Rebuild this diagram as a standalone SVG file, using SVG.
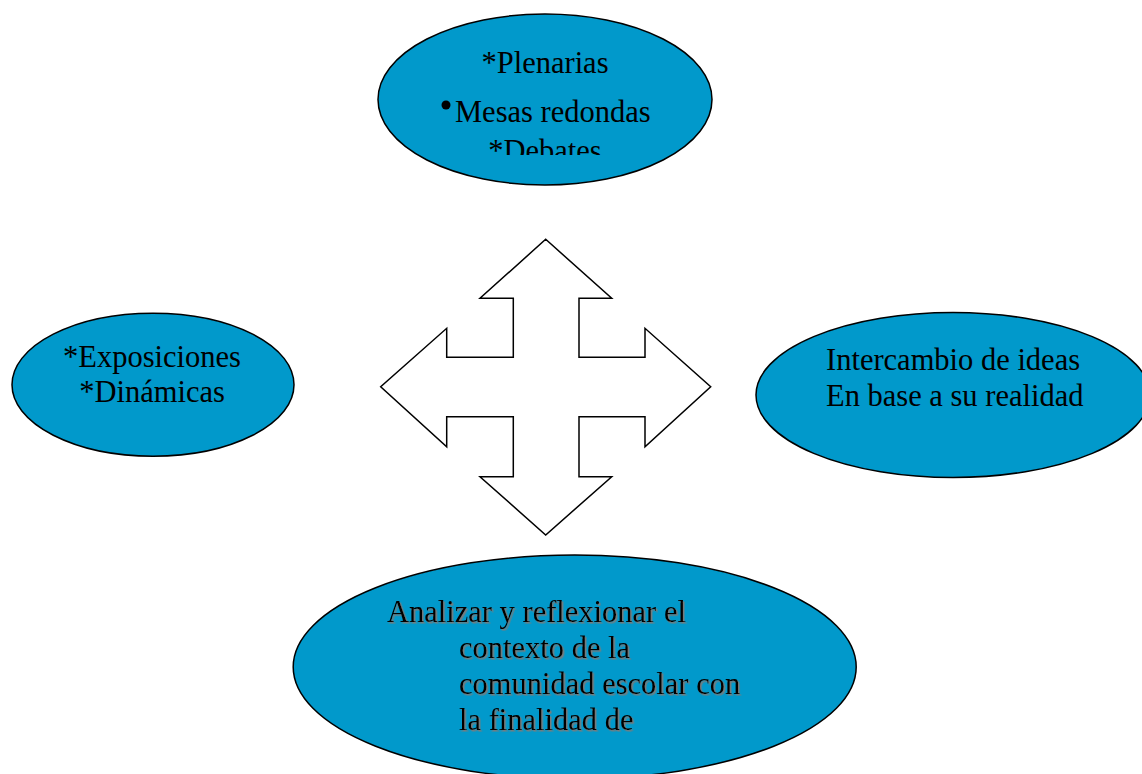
<svg xmlns="http://www.w3.org/2000/svg" width="1142" height="774" viewBox="0 0 1142 774">
<style>
.node{fill:#0199CB;stroke:#000;stroke-width:1.5}
.t{font-family:"Liberation Serif","Times New Roman",serif;font-size:30.5px;fill:#000}
.c{text-anchor:middle}
.arrow{fill:#fff;stroke:#000;stroke-width:1.5;stroke-linejoin:miter}
</style>
<defs>
<clipPath id="topclip"><rect x="370" y="0" width="350" height="155"/></clipPath>
<filter id="shadow" x="-5%" y="-20%" width="110%" height="140%">
<feDropShadow dx="1.5" dy="1.5" stdDeviation="0.4" flood-color="#7a7a7a" flood-opacity="1"/>
</filter>
</defs>
<rect width="1142" height="774" fill="#fff"/>
<g id="connectors">
<polygon class="arrow" points="545.7,239.3 611.7,298.3 579,298.3 579,357.3 645,357.3 645,328.3 710.7,386.7 645,446.7 645,416.7 579,416.7 579,476.7 611.7,476.7 545.7,535 480,476.7 513.3,476.7 513.3,416.7 446.7,416.7 446.7,446.7 380.7,386.7 446.7,328.3 446.7,357.3 513.3,357.3 513.3,298.3 480,298.3"/>
</g>
<g id="node-top">
<ellipse class="node" cx="545" cy="99.5" rx="167" ry="85.5"/>
<text class="t c" x="545" y="73">*Plenarias</text>
<circle cx="446" cy="105" r="4.5" fill="#000"/>
<text class="t" x="455" y="121.5">Mesas redondas</text>
<text class="t c" x="545" y="161" clip-path="url(#topclip)">*Debates</text>
</g>
<g id="node-left">
<ellipse class="node" cx="153" cy="384.7" rx="141" ry="71.5"/>
<text class="t c" x="152" y="367">*Exposiciones</text>
<text class="t c" x="152" y="402">*Dinámicas</text>
</g>
<g id="node-right">
<ellipse class="node" cx="953" cy="395" rx="197" ry="82.5"/>
<text class="t" x="826" y="370">Intercambio de ideas</text>
<text class="t" x="826" y="406">En base a su realidad</text>
</g>
<g id="node-bottom">
<ellipse class="node" cx="574.7" cy="667" rx="281.5" ry="112"/>
<g filter="url(#shadow)">
<text class="t" x="387" y="622">Analizar y reflexionar el</text>
<text class="t" x="459" y="658">contexto de la</text>
<text class="t" x="459" y="694">comunidad escolar con</text>
<text class="t" x="459" y="730">la finalidad de</text>
</g>
</g>
</svg>
